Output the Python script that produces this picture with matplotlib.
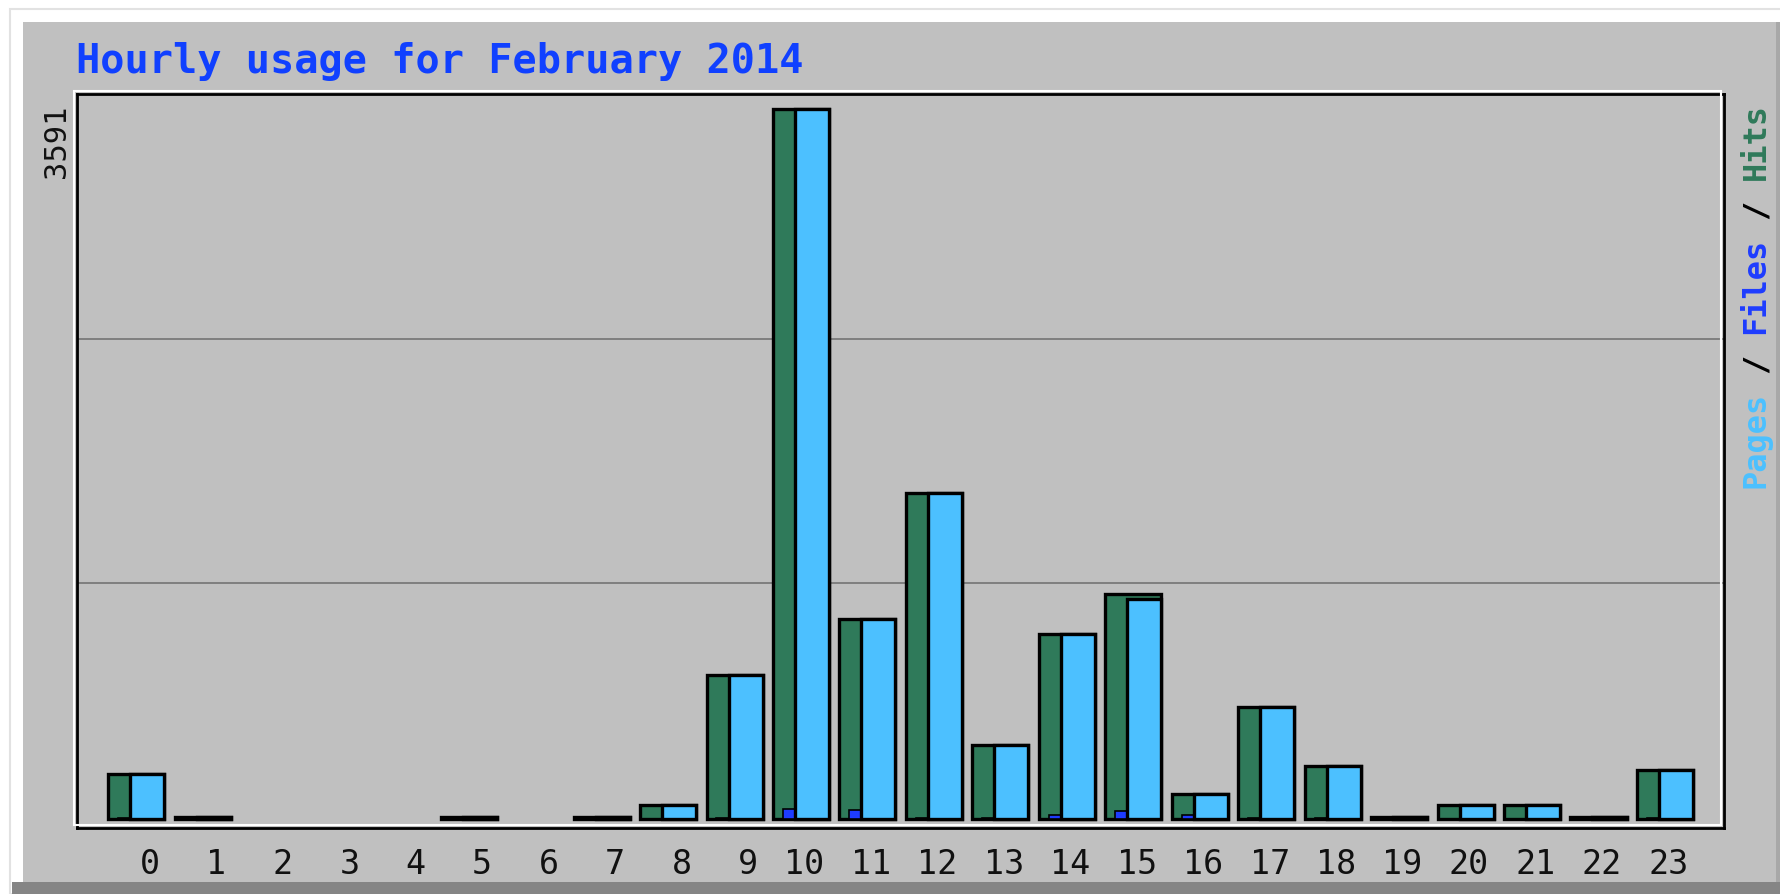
import matplotlib
matplotlib.use("Agg")
import matplotlib.pyplot as plt
from matplotlib.patches import Rectangle
from matplotlib.transforms import blended_transform_factory

# Hourly usage, February 2014
hours = list(range(24))
hits = [229, 10, 0, 0, 0, 10, 0, 10, 69, 728, 3591, 1010, 1646, 373,
        935, 1136, 126, 568, 270, 10, 69, 69, 10, 247]
files = [3, 0, 0, 0, 0, 0, 0, 0, 2, 4, 52, 45, 5, 3,
         22, 42, 22, 3, 3, 0, 2, 2, 0, 3]
pages = [229, 10, 0, 0, 0, 10, 0, 10, 69, 728, 3591, 1010, 1646, 373,
         935, 1113, 126, 568, 270, 10, 69, 69, 10, 247]
y_max = 3591

W, H = 1780, 895
GREEN = "#2F7A5A"
BLUE = "#1E3CFF"
CYAN = "#4CC0FF"
PANEL = "#C0C0C0"


def fx(px):
    return px / W


def fy(py):
    return 1 - py / H


fig = plt.figure(figsize=(W / 100, H / 100), dpi=100, facecolor="white")

# page frame / gray panel behind the graph
fig.add_artist(Rectangle((fx(10), fy(895)), 1, fy(10) - fy(895), transform=fig.transFigure,
                         facecolor="none", edgecolor="#E2E2E2", lw=1.5, zorder=-12))
fig.add_artist(Rectangle((fx(23), fy(883)), 1, fy(23) - fy(883), transform=fig.transFigure,
                         facecolor=PANEL, edgecolor="none", zorder=-11))
fig.add_artist(Rectangle((fx(12), 0), 1, fy(883), transform=fig.transFigure,
                         facecolor="#858585", edgecolor="none", zorder=-10))
fig.add_artist(Rectangle((fx(1776), fy(883)), fx(4), fy(23) - fy(883), transform=fig.transFigure,
                         facecolor="#A8A8A8", edgecolor="none", zorder=-10))
# white bevel line of the plot box
fig.add_artist(Rectangle((fx(74), fy(826)), fx(1721) - fx(74), fy(92) - fy(826),
                         transform=fig.transFigure, facecolor="none", edgecolor="white",
                         lw=1.5, zorder=1))

ax = fig.add_axes([fx(77), fy(829), fx(1724) - fx(77), fy(95) - fy(829)])
ax.set_facecolor(PANEL)
for s in ax.spines.values():
    s.set_color("black")
    s.set_linewidth(2)
ax.set_xticks([])
ax.set_yticks([])

px_per_unit = (820 - 109.5) / y_max
ax.set_xlim(-0.472, 24.31)
ax.set_ylim(-9 / px_per_unit, y_max + 14.5 / px_per_unit)

# grid lines split the box in thirds
for k in (1, 2):
    ax.plot([0, 1], [k / 3, k / 3], transform=ax.transAxes, color="#7A7A7A", lw=1.3, zorder=0.5)

hx = [h for h, v in zip(hours, hits) if v > 0]
hv = [v for v in hits if v > 0]
ax.bar(hx, hv, width=0.843, align="edge", color=GREEN, edgecolor="black", lw=2.4, zorder=2)

px_ = [h + 0.331 for h, v in zip(hours, pages) if v > 0]
pv = [v for v in pages if v > 0]
ax.bar(px_, pv, width=0.512, align="edge", color=CYAN, edgecolor="black", lw=2.4, zorder=3)

fx_ = [h + 0.15 for h, v in zip(hours, files) if v > 0]
fv = [v for v in files if v > 0]
ax.bar(fx_, fv, width=0.18, align="edge", color=BLUE, edgecolor="black", lw=1.2, zorder=2.5)

# hour labels under the box
tr = blended_transform_factory(ax.transData, fig.transFigure)
for h in hours:
    ax.text(h + 0.777, fy(865), str(h), transform=tr, ha="right", va="center",
            fontsize=24, family="DejaVu Sans Mono", color="#111111")

# title
fig.text(fx(76), fy(73), "Hourly usage for February 2014", ha="left", va="baseline",
         fontsize=29, fontweight="bold", family="DejaVu Sans Mono", color="#1040FF")

# max value on the left
fig.text(fx(57), fy(104), str(y_max), rotation=90, ha="center", va="top",
         fontsize=22, family="DejaVu Sans Mono", color="#111111")

# rotated legend on the right, bottom to top
adv = 23 * 100 / 72 * 0.602
bottom = 488
for k, txt, col in [(0, "Pages", CYAN), (6, "/", "black"), (8, "Files", BLUE),
                    (14, "/", "black"), (16, "Hits", GREEN)]:
    fig.text(fx(1756), fy(bottom - k * adv), txt, rotation=90, ha="center", va="bottom",
             fontsize=23, fontweight="bold", family="DejaVu Sans Mono", color=col)

fig.savefig("out.png", dpi=100, facecolor=fig.get_facecolor())
